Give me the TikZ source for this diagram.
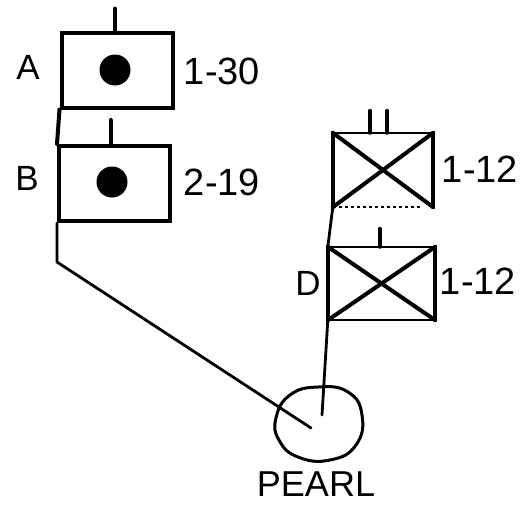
\documentclass[tikz,border=0pt]{standalone}
\usepackage{fontspec}
\setmainfont{Liberation Sans}
\usetikzlibrary{shapes.geometric}
\begin{document}
\begin{tikzpicture}[x=1pt,y=-1pt,
  thick line/.style={line width=4pt, line cap=round, line join=round},
  link line/.style={line width=2.8pt, line cap=round, line join=round},
  thin line/.style={line width=1.6pt},
  unitbox/.style={draw, line width=4pt, inner sep=0pt, minimum width=111pt, minimum height=75pt},
  xbox/.style={inner sep=0pt},
  dotmark/.style={circle, fill=black, inner sep=0pt, minimum size=31pt},
  numlbl/.style={font=\fontsize{38}{40}\selectfont, inner sep=0pt},
  letlbl/.style={font=\fontsize{35}{37}\selectfont, inner sep=0pt},
  biglbl/.style={font=\fontsize{36}{38}\selectfont, inner sep=0pt}]
\useasboundingbox (0,0) rectangle (522,506);

% left column
\node[unitbox] (A) at (117,70) {};
\node[dotmark] (Adot) at (115,70) {};
\draw[thick line] ([xshift=-2pt]A.north) -- ++(0,-22);
\node[letlbl] (Alab) at (28,67) {A};
\node[numlbl] (Anum) at (222,71) {1-30};

\node[unitbox] (B) at (114.5,183.5) {};
\node[dotmark] (Bdot) at (112,182) {};
\draw[thick line] ([xshift=-4pt]B.north) -- ++(0,-24);
\node[letlbl] (Blab) at (27,178) {B};
\node[numlbl] (Bnum) at (222,182) {2-19};

\coordinate (bend) at (57,262);
\coordinate (pend) at (311,428);
\draw[thick line] (A.south west) -- (B.north west);
\draw[link line] (B.south west) -- (bend) -- (pend);

% right column
\node[xbox, minimum width=100pt, minimum height=74pt] (C) at (383,170) {};
\draw[thick line] (C.north west) -- (C.south west);
\draw[thick line] (C.north east) -- (C.south east);
\draw[thick line] (C.north west) -- (C.south east);
\draw[thick line] (C.south west) -- (C.north east);
\draw[thin line] (C.north west) -- (C.north east);
\draw[thin line, dashed] (C.south west) -- ([xshift=-12pt]C.south east);
\draw[thick line] ([xshift=-13pt]C.north) -- ++(0,-22);
\draw[thick line] ([xshift=4pt]C.north) -- ++(0,-22);
\node[numlbl] (Cnum) at (480,169) {1-12};

\node[xbox, minimum width=107pt, minimum height=73pt] (D) at (381.5,283.5) {};
\draw[thick line] (D.north west) -- (D.south west);
\draw[thick line] (D.north east) -- (D.south east);
\draw[thick line] (D.north west) -- (D.south east);
\draw[thick line] (D.south west) -- (D.north east);
\draw[thin line] (D.north west) -- (D.north east);
\draw[thin line] (D.south west) -- (D.south east);
\draw[thick line] ([xshift=-2pt]D.north) -- ++(0,-18);
\node[letlbl] (Dlab) at (308,283) {D};
\node[numlbl] (Dnum) at (478,281) {1-12};

\coordinate (qend) at (322,415);
\draw[link line] (C.south west) -- (D.north west);
\draw[link line] (D.south west) -- (qend);

% Pearl
\node[ellipse, minimum width=87pt, minimum height=74pt, inner sep=0pt] (P) at (318,423) {};
\draw[line width=3pt] plot[smooth cycle, tension=0.8] coordinates {(276,418) (290,395) (318,387) (348,392) (362,415) (356,445) (330,460) (298,457) (279,440)};
\node[biglbl] (Plab) at (316,484) {PEARL};
\end{tikzpicture}
\end{document}
